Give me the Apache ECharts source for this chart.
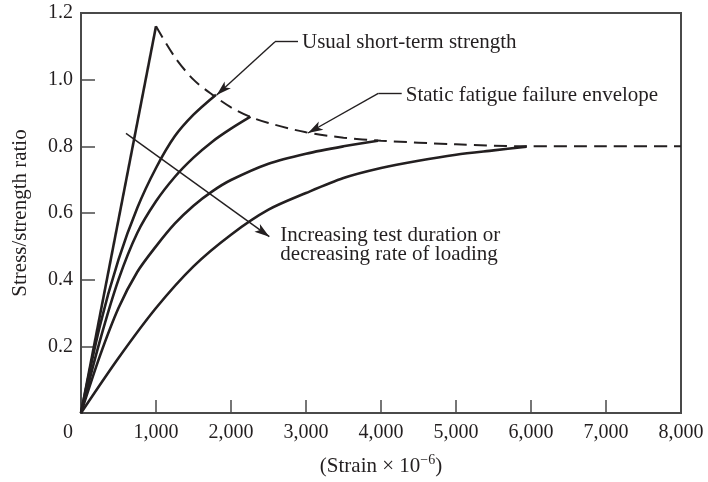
<!DOCTYPE html>
<html>
<head>
<meta charset="utf-8">
<script src="https://cdn.jsdelivr.net/npm/echarts@6/dist/echarts.min.js"></script>
<style>html,body{margin:0;padding:0;background:#fff;}#c{width:708px;height:482px;}</style>
</head>
<body>
<div id="c"></div>
<script>
// ---- data (strain x10^-6, stress/strength ratio) ----
var xTicks = [0, 1000, 2000, 3000, 4000, 5000, 6000, 7000, 8000];
var yTicks = [0.2, 0.4, 0.6, 0.8, 1.0, 1.2];

var curveA = [[0, 0], [1000, 1.16]];
var curveB = [[0, 0], [250, 0.26], [500, 0.46], [750, 0.615], [1000, 0.735], [1250, 0.83], [1500, 0.895], [1800, 0.955]];
var curveC = [[0, 0], [250, 0.215], [500, 0.40], [750, 0.54], [1000, 0.635], [1250, 0.708], [1500, 0.766], [1750, 0.814], [2000, 0.853], [2260, 0.889]];
var curveD = [[0, 0], [250, 0.17], [500, 0.315], [750, 0.423], [1000, 0.50], [1250, 0.568], [1500, 0.622], [1750, 0.665], [2000, 0.699], [2500, 0.748], [3000, 0.778], [3500, 0.80], [3960, 0.817]];
var curveE = [[0, 0], [500, 0.165], [1000, 0.315], [1500, 0.44], [2000, 0.535], [2500, 0.61], [3000, 0.66], [3500, 0.705], [4000, 0.735], [4500, 0.757], [5000, 0.775], [5500, 0.788], [5942, 0.799]];
var envelope = [[1000, 1.16], [1250, 1.068], [1500, 1.0], [1750, 0.955], [2000, 0.917], [2250, 0.889], [2500, 0.87], [3000, 0.842], [3500, 0.826], [4000, 0.817], [5000, 0.806], [5942, 0.8], [7000, 0.8], [8000, 0.8]];

// annotation leader lines
var usualArrow = [[2587, 1.114], [1809, 0.954]];
var usualShelf = [[2587, 1.114], [2893, 1.114]];
var staticArrow = [[3964, 0.959], [3027, 0.84]];
var staticShelf = [[3964, 0.959], [4276, 0.959]];
var durationArrow = [[600, 0.839], [2511, 0.529]];

var labelUsual = 'Usual short-term strength';
var labelStatic = 'Static fatigue failure envelope';
var labelDuration = 'Increasing test duration or\ndecreasing rate of loading';
var xName = '(Strain × 10{sup|−6})';
var yName = 'Stress/strength ratio';

// ---- chart ----
var FONT = '"Liberation Serif", "Times New Roman", serif';
var INK = '#231f20';
var AX = '#4a4a4a';
var chart = echarts.init(document.getElementById('c'), null, {renderer: 'canvas'});

function curve(d, w, type) {
  return {
    type: 'line', data: d, showSymbol: false, symbol: 'none',
    smooth: d.length > 2 ? 0.3 : false,
    lineStyle: {color: INK, width: w, type: type || 'solid'},
    silent: true, z: 3
  };
}
function leader(pairs, arrow) {
  return {
    type: 'line', data: [], silent: true,
    markLine: {
      silent: true, animation: false,
      symbol: arrow ? ['none', 'arrow'] : ['none', 'none'],
      symbolSize: [7, 15],
      label: {show: false},
      lineStyle: {color: INK, width: 1.4, type: 'solid'},
      itemStyle: {color: INK},
      emphasis: {disabled: true},
      data: pairs.map(function (p) { return [{coord: p[0]}, {coord: p[1]}]; })
    }
  };
}

var option = {
  animation: false,
  backgroundColor: '#fff',
  grid: {left: 81, right: 27, top: 13, bottom: 69, show: true, borderColor: AX, borderWidth: 2,
    containLabel: false, outerBoundsMode: 'none'},
  xAxis: {
    type: 'value', min: xTicks[0], max: xTicks[xTicks.length - 1], interval: 1000,
    splitLine: {show: false},
    axisLine: {show: true, lineStyle: {color: AX, width: 2}},
    axisTick: {show: true, inside: true, length: 13, lineStyle: {color: AX, width: 1.5}},
    axisLabel: {
      margin: 10, color: INK, fontFamily: FONT, fontSize: 20,
      formatter: function (v) { return v === 0 ? '{o|0}' : v.toLocaleString('en-US'); },
      rich: {o: {fontFamily: FONT, fontSize: 20, color: INK, padding: [0, 26, 0, 0]}}
    },
    name: xName, nameLocation: 'middle', nameGap: 40,
    nameTextStyle: {color: INK, fontFamily: FONT, fontSize: 21,
      rich: {sup: {fontFamily: FONT, fontSize: 14, color: INK, padding: [0, 0, 12, 0]}}}
  },
  yAxis: {
    type: 'value', min: 0, max: 1.2, interval: 0.2,
    splitLine: {show: false},
    axisLine: {show: true, lineStyle: {color: AX, width: 2}},
    axisTick: {show: true, inside: true, length: 14, lineStyle: {color: AX, width: 1.5}},
    axisLabel: {
      margin: 8, color: INK, fontFamily: FONT, fontSize: 20, showMinLabel: false,
      formatter: function (v) { return v.toFixed(1); }
    },
    name: yName, nameLocation: 'middle', nameGap: 50,
    nameTextStyle: {color: INK, fontFamily: FONT, fontSize: 21}
  },
  series: [
    curve(curveA, 2.6),
    curve(curveB, 2.6),
    curve(curveC, 2.6),
    curve(curveD, 2.6),
    curve(curveE, 2.6),
    curve(envelope, 2, [13, 7]),
    leader([usualArrow, staticArrow, durationArrow], true),
    leader([usualShelf, staticShelf], false)
  ]
};
chart.setOption(option);

function px(p) { return chart.convertToPixel({gridIndex: 0}, p); }
var pU = px(usualShelf[1]), pS = px(staticShelf[1]), pD = px(durationArrow[1]);
chart.setOption({
  graphic: [
    {type: 'text', x: pU[0] + 4, y: pU[1] + 1, silent: true,
      style: {text: labelUsual, font: '21px ' + FONT, fill: INK, verticalAlign: 'middle'}},
    {type: 'text', x: pS[0] + 4, y: pS[1] + 2, silent: true,
      style: {text: labelStatic, font: '21px ' + FONT, fill: INK, verticalAlign: 'middle'}},
    {type: 'text', x: pD[0] + 11, y: pD[1] - 11, silent: true,
      style: {text: labelDuration, font: '21px ' + FONT, fill: INK, verticalAlign: 'top', lineHeight: 19}}
  ]
});
</script>
</body>
</html>
